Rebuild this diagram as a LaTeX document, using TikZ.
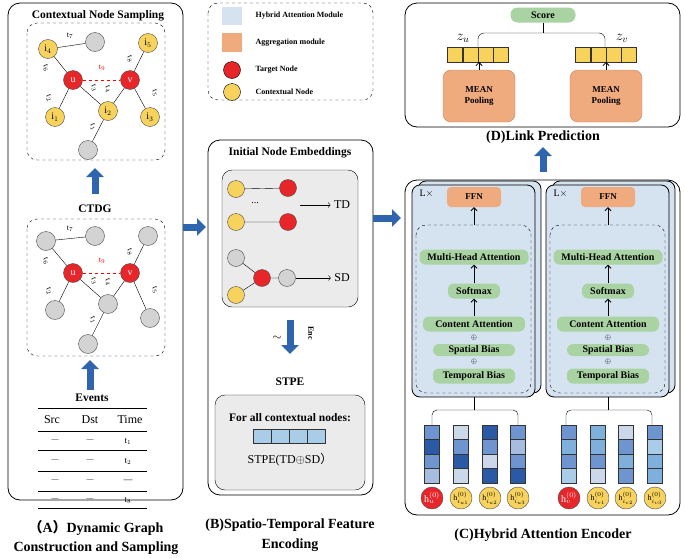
\documentclass[tikz,border=0pt]{standalone}
\usepackage{fontspec}
\setmainfont{Liberation Serif}
\newfontfamily\cjk{Noto Sans CJK SC}
\usetikzlibrary{arrows.meta,positioning}
\definecolor{tnode}{HTML}{E8262A}
\definecolor{cnode}{HTML}{F7D35E}
\definecolor{gnode}{HTML}{D3D3D3}
\definecolor{hbox}{HTML}{D5E3F0}
\definecolor{agg}{HTML}{EFAA7E}
\definecolor{pill}{HTML}{A9D3A2}
\definecolor{barbg}{HTML}{A9CCE8}
\definecolor{bigarrow}{HTML}{2F64AE}
\definecolor{hd}{HTML}{2A5AA5}
\definecolor{hm}{HTML}{6F95D0}
\definecolor{hl}{HTML}{A7BDE0}
\definecolor{hv}{HTML}{CBD8EA}
\definecolor{hs}{HTML}{7FB0DC}
\definecolor{hk}{HTML}{A9CCE8}
\tikzset{
  vtx/.style={circle,draw=black!70,minimum size=19pt,inner sep=0pt,font=\normalsize},
  tv/.style={vtx,fill=tnode,text=white},
  cv/.style={vtx,fill=cnode},
  gv/.style={vtx,fill=gnode},
  tlab/.style={font=\footnotesize,inner sep=0.5pt},
  panel/.style={draw,rounded corners=12pt,thick},
  dbox/.style={draw,dashed,rounded corners=10pt},
  blk/.style={line width=7pt,bigarrow,-{Triangle[length=9pt,width=17pt]}},
  pillbox/.style={fill=pill,rounded corners=6pt,font=\bfseries\fontsize{10}{12}\selectfont,minimum height=15pt,inner sep=1pt},
  ttl/.style={font=\bfseries\fontsize{14}{16}\selectfont},
  sttl/.style={font=\bfseries\fontsize{11.5}{13}\selectfont},
  cell/.style={draw=black!80,minimum width=15pt,minimum height=14.5pt,inner sep=0pt}
}
\begin{document}
\begin{tikzpicture}[x=1pt,y=-1pt]
\useasboundingbox (0,0) rectangle (685,557);
%% (A)
\draw[panel] (8,3) rectangle (183,500);
\node[sttl] (tA) at (98,16) {Contextual Node Sampling};
\draw[dbox] (27,23) rectangle (165,160);
\node[cv] (i4) at (48,49) {i$_4$};
\node[gv] (ga) at (95,42) {};
\node[tv] (u) at (73,80) {u};
\node[tv] (v) at (130,80) {v};
\node[cv] (i5) at (148,43) {i$_5$};
\node[cv] (i1) at (55,117) {i$_1$};
\node[cv] (i2) at (108,111) {i$_2$};
\node[cv] (i3) at (150,117) {i$_3$};
\node[gv] (gb) at (88,150) {};
\draw (i4) -- (ga) (i4) -- (u) (u) -- (i1) (u) -- (i2) (v) -- (i2) (v) -- (i5) (v) -- (i3) (i2) -- (gb);
\draw[red,dashed,thick] (u) -- (v);
\node[tlab] at (70,36) {t$_7$};
\node[tlab,rotate=-70] at (46,68) {t$_6$};
\node[tlab,rotate=-70] at (49,98) {t$_2$};
\node[tlab,red] at (102,68) {t$_9$};
\node[tlab,rotate=-70] at (94,88) {t$_3$};
\node[tlab,rotate=-70] at (108,89) {t$_4$};
\node[tlab,rotate=-70] at (130,59) {t$_8$};
\node[tlab,rotate=-70] at (155,93) {t$_5$};
\node[tlab,rotate=-70] at (93,127) {t$_1$};
\draw[blk] (95,194) -- (95,168);
\node[sttl] (ctdg) at (95,209) {CTDG};
\draw[dbox] (27,219) rectangle (165,356);
\node[gv] (g1) at (46,241) {};
\node[gv] (g2) at (95,236) {};
\node[tv] (u2) at (73,273) {u};
\node[tv] (v2) at (130,273) {v};
\node[gv] (g3) at (148,236) {};
\node[gv] (g4) at (55,310) {};
\node[gv] (g5) at (108,304) {};
\node[gv] (g6) at (150,318) {};
\node[gv] (g7) at (88,344) {};
\draw (g1) -- (g2) (g1) -- (u2) (u2) -- (g4) (u2) -- (g5) (v2) -- (g5) (v2) -- (g3) (v2) -- (g6) (g5) -- (g7);
\draw[red,dashed,thick] (u2) -- (v2);
\node[tlab] at (70,229) {t$_7$};
\node[tlab,rotate=-70] at (46,261) {t$_6$};
\node[tlab,rotate=-70] at (49,291) {t$_2$};
\node[tlab,red] at (102,261) {t$_9$};
\node[tlab,rotate=-70] at (94,281) {t$_3$};
\node[tlab,rotate=-70] at (108,282) {t$_4$};
\node[tlab,rotate=-70] at (130,252) {t$_8$};
\node[tlab,rotate=-70] at (155,290) {t$_5$};
\node[tlab,rotate=-70] at (93,320) {t$_1$};
\draw[blk] (90,390) -- (90,360);
\node[sttl] (ev) at (92,398) {Events};
\foreach \yy in {408,431,450,471,491,508} \draw[thick] (38,\yy) -- (147,\yy);
\node[font=\large] (src) at (52,420) {Src};
\node[font=\large] (dst) at (90,420) {Dst};
\node[font=\large] (tim) at (130,420) {Time};
\foreach \yy/\tt in {441/t$_1$,461/t$_2$,481/---,500/t$_8$}{
  \node[font=\scriptsize] at (55,\yy) {---};
  \node[font=\scriptsize] at (90,\yy) {---};
  \node[font=\small] at (128,\yy) {\tt};
}
\node[ttl] (capA1) at (96,528) {{\cjk （}A{\cjk ）}Dynamic Graph};
\node[ttl] (capA2) at (96,548) {Construction and Sampling};
%% legend
\draw[dbox] (208,3) rectangle (373,100);
\fill[hbox] (222,7) rectangle (242,25);
\fill[agg] (222,33) rectangle (242,52);
\node[circle,draw,fill=tnode,minimum size=17pt] (lt) at (232,70) {};
\node[circle,draw,fill=cnode,minimum size=17pt] (lc) at (232,92) {};
\foreach \yy/\tx in {16/Hybrid Attention Module,43/Aggregation module,70/Target Node,92/Contextual Node}
  \node[anchor=west,font=\bfseries\footnotesize] at (252,\yy) {\tx};
%% (B)
\draw[panel] (208,140) rectangle (373,495);
\node[sttl] (tB) at (290,153) {Initial Node Embeddings};
\draw[fill=black!8,rounded corners=10pt] (222,170) rectangle (358,307);
\node[cv,minimum size=17pt] (b1) at (236,189) {};
\node[tv,minimum size=17pt] (b2) at (288,188) {};
\node[cv,minimum size=17pt] (b3) at (236,222) {};
\node[tv,minimum size=17pt] (b4) at (288,222) {};
\draw (b1) -- (b2) (b3) -- (b4);
\node at (255,203) {...};
\coordinate (tdA) at (300,205);
\node[font=\large] (td) at (342,205) {TD};
\draw[->] (tdA) -- (td);
\node[gv,minimum size=17pt] (b5) at (236,258) {};
\node[tv,minimum size=17pt] (b6) at (262,278) {};
\node[gv,minimum size=17pt] (b7) at (287,278) {};
\node[cv,minimum size=17pt] (b8) at (236,295) {};
\node[font=\large] (sd) at (342,278) {SD};
\draw (b5) -- (b6) (b8) -- (b6) (b6) -- (b7);
\draw[->] (b7) -- (sd);
\draw[blk] (290,320) -- (290,354);
\node[font=\large] (tl) at (277,338) {$\sim$};
\node[font=\bfseries\footnotesize,rotate=-90] (enc) at (311,333) {Enc};
\node[sttl] (stpe) at (290,382) {STPE};
\draw[fill=black!8,rounded corners=10pt] (215,395) rectangle (365,490);
\node[sttl] (fa) at (290,418) {For all contextual nodes:};
\foreach \k in {0,...,3} \node[cell,fill=barbg,minimum width=18pt] at (262+\k*18,436) {};
\node[font=\large] (stf) at (290,460) {STPE(TD$\oplus$SD{\cjk ）}};
\node[ttl] (capB1) at (290,525) {(B)Spatio-Temporal Feature};
\node[ttl] (capB2) at (290,545) {Encoding};
\draw[blk] (183,227) -- (206,227);
\draw[blk] (373,218) -- (401,218);
%% (C)
\draw[panel] (405,180) rectangle (680,515);
\foreach \cx/\bx in {474/412,608/546}{
  \draw[fill=hbox,rounded corners=8pt,thick] (\bx+6,181) rectangle (\bx+129,393);
  \draw[fill=hbox,rounded corners=8pt,thick] (\bx,185) rectangle (\bx+123,397);
  \node[anchor=west,font=\normalsize] at (\bx+4,194) {L$\times$};
  \node[fill=agg,rounded corners=4pt,minimum width=54pt,minimum height=20pt,font=\bfseries\small] (ffn\cx) at (\cx,197) {FFN};
  \draw[dashed,rounded corners=10pt] (\bx+4,225) rectangle (\bx+119,393);
  \node[pillbox,minimum width=109pt] (mha\cx) at (\cx,257) {Multi-Head Attention};
  \node[pillbox,minimum width=52pt] (sm\cx) at (\cx,291) {Softmax};
  \node[pillbox,minimum width=102pt] (ca\cx) at (\cx,324) {Content Attention};
  \node[font=\scriptsize] at (\cx,338) {$\oplus$};
  \node[pillbox,minimum width=82pt,minimum height=12pt] (sb\cx) at (\cx,350) {Spatial Bias};
  \node[font=\scriptsize] at (\cx,362) {$\oplus$};
  \node[pillbox,minimum width=82pt] (tb\cx) at (\cx,376) {Temporal Bias};
  \draw[-{Straight Barb},thick] (ca\cx) -- (sm\cx);
  \draw[-{Straight Barb},thick] (sm\cx) -- (mha\cx);
  \draw[-{Straight Barb},thick] (\cx,225) -- (ffn\cx);
  \draw (\cx,397) -- (\cx,410);
  \draw[rounded corners=5pt] (\cx-42,425) -- (\cx-42,410) -- (\cx+44,410) -- (\cx+44,425);
}
\foreach \x/\c [count=\n from 0] in {432/{hm,hd,hm,hl},461/{hv,hm,hd,hv},490/{hd,hm,hv,hd},518/{hm,hl,hm,hd},
    569/{hm,hs,hm,hk},598/{hs,hs,hm,hv},626/{hv,hm,hs,hm},655/{hm,hk,hs,hs}}{
  \foreach \cc [count=\m from 0] in \c
    \node[cell,fill=\cc] at (\x,432+\m*14.5) {};
}
\node[tv,minimum size=22pt] (hu) at (432,498) {h$_u^{(0)}$};
\node[cv,minimum size=22pt] (hu1) at (461,498) {\footnotesize h$_{i_{u1}}^{(0)}$};
\node[cv,minimum size=22pt] (hu2) at (490,498) {\footnotesize h$_{i_{u2}}^{(0)}$};
\node[cv,minimum size=22pt] (hu3) at (518,498) {\footnotesize h$_{i_{u3}}^{(0)}$};
\node[tv,minimum size=22pt] (hv) at (569,498) {h$_v^{(0)}$};
\node[cv,minimum size=22pt] (hv1) at (598,498) {\footnotesize h$_{i_{v1}}^{(0)}$};
\node[cv,minimum size=22pt] (hv2) at (626,498) {\footnotesize h$_{i_{v2}}^{(0)}$};
\node[cv,minimum size=22pt] (hv3) at (655,498) {\footnotesize h$_{i_{v3}}^{(0)}$};
\node[ttl] (capC) at (543,535) {(C)Hybrid Attention Encoder};
%% (D)
\draw[panel] (405,3) rectangle (680,127);
\node[pillbox,minimum width=65pt,rounded corners=7pt] (score) at (543,15) {Score};
\draw (score) -- (543,33);
\draw[rounded corners=6pt] (478,47) -- (478,33) -- (605,33) -- (605,47);
\node[font=\Large] (zu) at (463,38) {$z_u$};
\node[font=\Large] (zv) at (622,38) {$z_v$};
\foreach \k in {0,...,3}{
  \node[cell,fill=cnode,minimum height=15pt] at (455+\k*15.3,55) {};
  \node[cell,fill=cnode,minimum height=15pt] at (583+\k*15.3,55) {};
}
\node[fill=agg,draw=agg!80!black,rounded corners=8pt,minimum width=72pt,minimum height=52pt,font=\bfseries\small,align=center] (mpu) at (479,96) {MEAN\\Pooling};
\node[fill=agg,draw=agg!80!black,rounded corners=8pt,minimum width=72pt,minimum height=52pt,font=\bfseries\small,align=center] (mpv) at (606,96) {MEAN\\Pooling};
\draw[-{Straight Barb},thick] (mpu.north) -- (479,62);
\draw[-{Straight Barb},thick] (mpv.north) -- (606,62);
\node[ttl] (capD) at (543,137) {(D)Link Prediction};
\draw[blk] (543,172) -- (543,147);
\end{tikzpicture}
\end{document}
